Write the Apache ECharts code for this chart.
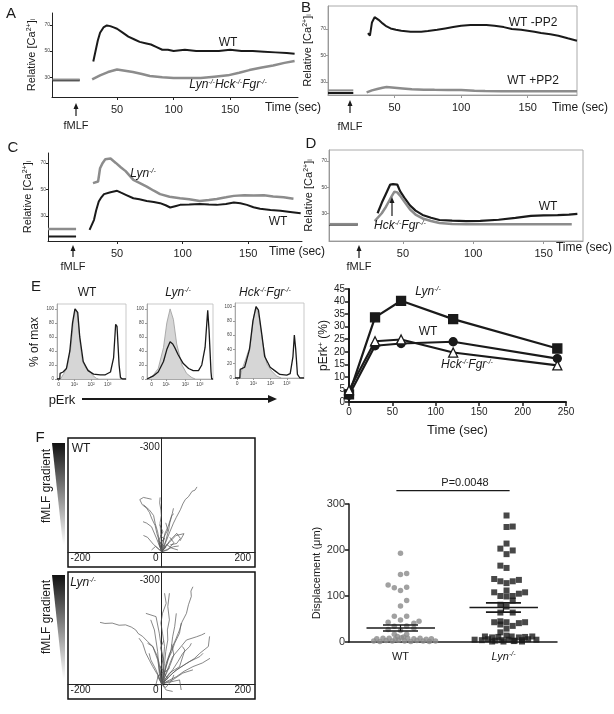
<!DOCTYPE html>
<html>
<head>
<meta charset="utf-8">
<title>Ca flux, pErk and chemotaxis</title>
<script src="https://cdnjs.cloudflare.com/ajax/libs/echarts/6.0.0/echarts.min.js"></script>
<style>html,body{margin:0;padding:0;background:#fff;}</style>
</head>
<body>
<div id="fig" style="width:614px;height:714px;"></div>
<script>
var FONT = 'Liberation Sans';
var INK = '#1a1a1a', GRAY = '#8c8c8c';

// ---------- A-D : calcium traces, [time (sec), relative Ca] ----------
var aBaseWT = [[-7, 27.7], [17, 27.7]];
var aBaseKO = [[-7, 28.3], [17, 28.3]];
var aWT = [[29,42],[31,50],[33,58],[35,64],[38,68],[41,69.5],[44,69],[47,68],[50,67],[55,64],[60,61],[65,59],[70,57],[75,56],[80,55],[85,53],[90,51],[95,51],[100,50],[110,51],[120,50],[130,50],[140,50],[150,51],[160,50],[170,50],[180,49.5],[190,49],[200,48.5],[207,48]];
var aKO = [[28,28.5],[35,31.5],[42,34],[50,36],[57,35],[64,34],[72,32.5],[79,31],[90,30],[100,29.5],[112,29.5],[124,29.5],[136,30.5],[148,31.5],[158,33.5],[167,35.5],[178,37.5],[188,39],[198,41],[207,42.5]];

var bBaseWT = [[0, 21.5], [19, 21.5]];
var bBasePP2 = [[0, 23.5], [19, 23.5]];
var bNoPP2 = [[30,67],[31.5,65],[33,75],[35,79],[38,77],[41,74.3],[44,72],[47,70.5],[51,69.5],[55,68.7],[62,68],[70,68],[75,68.5],[82,69.5],[88,70.5],[94,71.5],[100,72.5],[107,73],[113,73],[119,73],[125,72.5],[132,71.5],[138,70],[145,69.5],[150,68.8],[155,68],[160,67],[167,66],[173,65],[180,63],[187,61.2]];
var bPP2 = [[29,22],[33,23.5],[37,24.5],[41,25.5],[44,26],[50,25.5],[56,25],[63,24.3],[72,24],[80,23.9],[90,23.8],[100,23.7],[110,23.3],[118,23],[130,22.8],[143,22.8],[160,22.8],[175,22.8],[187,22.8]];

var cBaseWT = [[-2.7, 14.4], [18.7, 14.4]];
var cBaseLyn = [[-2.7, 20], [18.7, 20]];
var cLyn = [[31.6,54.7],[35.5,56],[37,66],[39,70],[41,72.8],[45,73.3],[49,70],[53,66.5],[56.5,63.8],[62.4,57.2],[67,55],[72.6,52.1],[78,49],[82.8,46.4],[90,44.5],[98,43.3],[105,42.5],[113,41.3],[120,42],[126,42.8],[133,44],[139,45.1],[147,45.5],[154,45.3],[162,45.5],[169,44.6],[177,44],[184.5,42.9]];
var cWT = [[29,19.4],[32.4,27],[34,34],[36,40.8],[38,44],[40,46.4],[45,47.9],[50,48.9],[53,47.5],[56.6,45.9],[62.4,43.3],[67,42.5],[72.6,41.3],[78,40.5],[82.8,39.6],[87,38],[90.5,36.3],[95,37.5],[98,38.3],[105,38.5],[113,38.9],[120,38.5],[126,38.3],[133,39],[139,40.1],[144,39.5],[149,38.3],[154,36.5],[159,35.3],[167,34.5],[174.6,33.8],[182,33],[190,32]];

var dBaseWT = [[-2.5, 21.3], [18, 21.3]];
var dBaseKO = [[-2.5, 21.8], [18, 21.8]];
var dWT = [[32,30],[35,38],[38,45],[41,52],[43,52.3],[46,52],[48,47],[51,42],[55,36],[59,32],[64,28.7],[70,26.5],[76,24.8],[85,24.3],[95,24],[105,24.2],[118,25],[130,26.5],[141,28],[150,28.3],[160,28.5],[168,29],[174,29.5]];
var dKO = [[30,24],[35,30],[38,35],[40,39],[42,43],[44,46.6],[46,46],[48,43.5],[51,39],[55,33],[59,29],[64,26],[70,24],[76,22.5],[85,21.8],[95,21.5],[110,21.5],[130,21.5],[150,21.5],[170,21.5]];
var caTicksX = [50, 100, 150];
var caTicksY = [30, 50, 70];

// ---------- E : pErk histograms, [position (% of plot width), % of max] ----------
var h1Gray = [[0,0],[5,0],[10,8],[15,18],[20,45],[24,85],[27,100],[30,90],[33,55],[37,25],[42,15],[47,12],[52,5],[57,1],[60,0]];
var h1Black = [[0,0],[4,0],[4.5,8],[8.8,10],[13.7,15],[18.6,40],[22.5,80],[26,100],[30,95],[33,60],[38,25],[45,12],[53,7],[62.7,6],[70,6],[77.5,10],[82,30],[85,78],[87,75],[90,20],[92,2],[95,0],[100,0]];
var h2Gray = [[0,0],[0.5,0],[9,5],[17,15],[25,45],[30,80],[35,100],[40,85],[45,50],[53,20],[60,8],[68,2],[73,0]];
var h2Black = [[0,0],[0.5,2],[9,4],[17,10],[25,25],[30,42],[35,53],[39,50],[42,45],[47,35],[55,22],[63,15],[70,12],[78,12],[83,20],[88,45],[92,98],[94,70],[97,10],[98,0],[100,0]];
var h3Gray = [[0,0],[7,0],[9.5,10],[15,25],[22,45],[27,85],[30.5,100],[35,85],[40,50],[46,20],[53,10],[60,3],[67,0]];
var h3Black = [[0,0],[7,0],[7.5,12],[14,15],[21,40],[26,80],[30.5,100],[34,95],[39,60],[43,30],[51,15],[58,10],[65,5],[75,4],[80,6],[84,30],[86,60],[88,40],[90.5,5],[94,0],[100,0]];
var h1Ticks = [2.5, 25, 49.5, 73.5];
var h2Ticks = [7, 29, 58, 80];
var h3Ticks = [3, 26.6, 51.7, 75];
var histTickLabels = ['0', '10¹', '10²', '10³'];
var histTicksY = [0, 20, 40, 60, 80, 100];

// ---------- E : pErk+ time course ----------
var erkTime = [0, 30, 60, 120, 240];
var erkLyn = [3, 33.7, 40.3, 33, 21.3];
var erkWT = [2.7, 22.4, 23.3, 24, 17.3];
var erkHck = [4.7, 24.2, 24.9, 19.7, 14.6];

// ---------- F : migration tracks, [x, y] in um (negative y = up the gradient) ----------
var wtTracks = [
  [[0,0],[6,-15],[12,-32],[20,-55],[29,-79],[36,-95],[46,-116],[52,-132],[58,-144],[66,-152],[75,-167],[82,-170],[87,-179]],
  [[0,0],[-5,-25],[-12,-51],[-16,-72],[-25,-93],[-30,-108],[-37,-120],[-48,-130],[-54,-144],[-45,-150],[-37,-148],[-25,-145]],
  [[0,0],[-6,-30],[-10,-55],[-16,-78],[-20,-100],[-30,-115],[-45,-130]],
  [[0,0],[4,-25],[8,-51],[16,-70],[21,-88],[26,-105],[29,-120]],
  [[0,0],[10,-30],[17,-60],[20,-80],[25,-100],[30,-105]],
  [[0,0],[21,-32],[37,-51],[46,-37],[37,-23],[21,-19]],
  [[0,0],[29,-14],[42,-16]],
  [[0,0],[-12,-35],[-25,-69],[-37,-79],[-46,-83]],
  [[0,0],[-2,-40],[-4,-80],[-1,-100],[-2,-115],[-5,-135],[-4,-150]],
  [[0,0],[-8,-30],[3,-55],[-5,-75]],
  [[0,0],[12,-20],[25,-10],[40,-5]],
  [[0,0],[-15,-15],[-25,-5]],
  [[0,0],[18,-25],[35,-45],[55,-50],[45,-30]],
  [[0,0],[5,-40],[15,-60],[10,-80]],
  [[0,0],[-6,-20],[6,-35],[-3,-45]],
  [[0,0],[10,-12],[-4,-25],[8,-38]],
  [[0,0],[-20,-20],[-35,-40],[-45,-45]],
  [[0,0],[15,-5],[30,-25],[20,-40]]
];
var lynTracks = [
  [[0,0],[-6,-57],[-12,-80],[-22,-104],[-35,-118],[-47,-132],[-58,-140],[-64,-150],[-75,-158],[-89,-164],[-105,-163],[-122,-169],[-140,-168],[-152,-171]],
  [[0,0],[11,-57],[18,-80],[27,-104],[35,-125],[44,-150],[50,-172],[61,-196],[66,-220],[73,-243],[72,-258],[77,-270]],
  [[0,0],[7,-57],[10,-90],[15,-122],[14,-150],[19,-178],[15,-215],[19,-252]],
  [[7,0],[2,-76],[-2,-110],[-6,-141],[-14,-187],[-39,-196]],
  [[0,0],[27,-30],[45,-45],[61,-57],[80,-70],[94,-85],[115,-104],[118,-132]],
  [[0,0],[36,-20],[55,-35],[77,-48],[100,-58],[119,-71]],
  [[0,0],[27,-39],[40,-62],[52,-85],[69,-104],[73,-113]],
  [[0,0],[-10,-25],[-22,-48],[-30,-65],[-39,-85],[-47,-113],[-56,-127]],
  [[0,0],[15,-67],[25,-90],[32,-113],[44,-141],[48,-169]],
  [[0,0],[11,-48],[23,-94],[27,-131],[32,-159],[36,-196]],
  [[0,0],[19,-30],[44,-48],[57,-94],[51,-104]],
  [[0,0],[-14,-39],[-27,-67],[-31,-85]],
  [[0,0],[-6,-30],[-10,-90],[-18,-150],[-27,-178]],
  [[0,0],[44,-11],[48,17]],
  [[0,0],[11,17],[27,21]],
  [[0,0],[7,-104],[2,-141],[-2,-169],[2,-196],[11,-224],[7,-252]],
  [[0,0],[27,-76],[45,-100],[61,-122],[86,-131],[98,-136],[107,-141]],
  [[0,0],[-10,-67],[-22,-104],[-35,-113]],
  [[0,0],[27,-11],[52,-30],[77,-39]],
  [[0,0],[36,-39],[69,-62],[94,-76],[102,-85]],
  [[0,0],[-10,-20],[5,-35],[-5,-50]],
  [[0,0],[15,-15],[5,-30],[20,-45]],
  [[0,0],[-15,5],[-8,-25]],
  [[0,0],[10,10],[25,-10],[30,-25]],
  [[0,0],[-4,-40],[4,-70],[-3,-100],[5,-120]],
  [[0,0],[20,-50],[30,-80],[25,-110]]
];

// ---------- F : displacement (um), [jittered group position, value] ----------
var wtDisp = [[0.5,193],[0.5,147],[0.56,149],[0.38,124],[0.44,118],[0.5,112],[0.56,119],[0.56,90],[0.5,78],
  [0.44,56],[0.56,56],[0.38,43],[0.5,48],[0.68,45],[0.44,34],[0.56,35],[0.63,41],[0.38,27],[0.5,25],[0.63,30],
  [0.44,17],[0.56,17],[0.47,12],[0.53,11],
  [0.27,7],[0.33,8],[0.39,8],[0.45,6],[0.51,9],[0.57,8],[0.63,7],[0.69,8],[0.75,6],[0.8,7],
  [0.24,2],[0.3,1],[0.36,3],[0.42,2],[0.48,4],[0.54,2],[0.6,1],[0.66,3],[0.72,2],[0.78,1],[0.84,2]];
var lynDisp = [[1.53,275],[1.53,250],[1.59,251],[1.53,214],[1.47,203],[1.59,199],[1.53,191],[1.47,166],[1.53,161],
  [1.41,137],[1.47,132],[1.53,128],[1.59,132],[1.65,135],[1.41,108],[1.53,112],[1.65,105],[1.71,108],
  [1.47,100],[1.53,99],[1.59,100],[1.59,90],[1.47,81],[1.53,77],[1.47,64],[1.59,64],
  [1.41,43],[1.47,45],[1.53,43],[1.65,41],[1.71,43],[1.47,38],[1.59,35],[1.53,29],[1.47,21],[1.53,14],
  [1.32,12],[1.39,10],[1.45,11],[1.58,12],[1.65,10],[1.71,11],[1.78,12],
  [1.22,5],[1.29,4],[1.35,6],[1.42,3],[1.48,4],[1.55,5],[1.61,3],[1.68,4],[1.74,6],[1.82,5],
  [1.39,1],[1.5,1],[1.6,2],[1.68,1]];
var dispGroups = [0.5, 1.5];
var dispMean = [30.5, 75];
var dispSem = [6.5, 10];

// ---------- helpers ----------
function rich(size) {
  var sup = Math.round(size * 0.62);
  return {
    n: {fontFamily: FONT, fontSize: size, color: INK, fill: INK},
    i: {fontFamily: FONT, fontSize: size, fontStyle: 'italic', color: INK, fill: INK},
    s: {fontFamily: FONT, fontSize: sup, fontStyle: 'italic', color: INK, fill: INK, verticalAlign: 'top', lineHeight: sup + 1},
    p: {fontFamily: FONT, fontSize: sup, color: INK, fill: INK, verticalAlign: 'top', lineHeight: sup + 1},
    b: {fontFamily: FONT, fontSize: sup, color: INK, fill: INK, verticalAlign: 'bottom', lineHeight: sup + 1}
  };
}
function tx(x, y, text, size, rot, align) {
  return {type: 'text', x: x, y: y, rotation: rot || 0, z: 50, silent: true,
    style: {text: text, font: size + 'px "' + FONT + '"', fill: INK,
      align: align || 'center', verticalAlign: 'middle', textAlign: align || 'center', textVerticalAlign: 'middle', rich: rich(size)}};
}
function arrowUp(x, yTip, yTail) {
  return [
    {type: 'line', z: 50, silent: true, shape: {x1: x, y1: yTail, x2: x, y2: yTip + 4}, style: {stroke: INK, lineWidth: 1.2}},
    {type: 'polygon', z: 50, silent: true, shape: {points: [[x, yTip], [x - 2.5, yTip + 6], [x + 2.5, yTip + 6]]}, style: {fill: INK}}
  ];
}
var LYN = '{i|Lyn}{s|-/-}';
var HF = '{i|Hck}{s|-/-}{i|Fgr}{s|-/-}';
var TKO = '{i|Lyn}{s|-/-}{i|Hck}{s|-/-}{i|Fgr}{s|-/-}';
var CA = '{n|Relative [Ca}{p|2+}{n|]}{b|i}';

function ln(gi, data, color, width, z) {
  return {type: 'line', xAxisIndex: gi, yAxisIndex: gi, data: data, symbol: 'none', silent: true,
    lineStyle: {color: color, width: width}, z: z || 2};
}
function caX(gi, min, max, lineColor) {
  return {gridIndex: gi, type: 'value', min: min, max: max, splitLine: {show: false},
    axisLine: {onZero: false, lineStyle: {color: lineColor, width: 1}},
    axisTick: {customValues: caTicksX, length: 3, lineStyle: {color: lineColor}},
    axisLabel: {customValues: caTicksX, fontSize: 11, color: '#222', fontFamily: FONT, margin: 7}};
}
function caY(gi, min, max, lineColor) {
  return {gridIndex: gi, type: 'value', min: min, max: max, splitLine: {show: false},
    axisLine: {show: true, onZero: false, lineStyle: {color: lineColor, width: 1}},
    axisTick: {customValues: caTicksY, length: 2, lineStyle: {color: lineColor}},
    axisLabel: {customValues: caTicksY, fontSize: 5, color: '#444', fontFamily: FONT, margin: 2},
    name: CA, nameLocation: 'middle', nameRotate: 90, nameGap: 15, nameTextStyle: {rich: rich(11)}};
}
function hX(gi, ticks) {
  var map = {};
  ticks.forEach(function (t, k) { map[t] = histTickLabels[k]; });
  return {gridIndex: gi, type: 'value', min: 0, max: 100, splitLine: {show: false},
    axisLine: {onZero: false, lineStyle: {color: '#999', width: 0.8}},
    axisTick: {customValues: ticks, length: 2, lineStyle: {color: '#999'}},
    axisLabel: {customValues: ticks, fontSize: 5, color: '#444', fontFamily: FONT, margin: 3,
      formatter: function (v) { return map[v] || ''; }}};
}
function hY(gi, max) {
  return {gridIndex: gi, type: 'value', min: 0, max: max, splitLine: {show: false},
    axisLine: {show: true, onZero: false, lineStyle: {color: '#999', width: 0.8}},
    axisTick: {customValues: histTicksY, length: 2, lineStyle: {color: '#999'}},
    axisLabel: {customValues: histTicksY, fontSize: 4.5, color: '#444', fontFamily: FONT, margin: 3}};
}
// track plots: axis lines cross at the origin, labels are placed after layout
function tX(gi) {
  return {gridIndex: gi, type: 'value', min: -231, max: 230, splitLine: {show: false},
    axisLine: {onZero: true, lineStyle: {color: '#222', width: 1}}, axisTick: {show: false}, axisLabel: {show: false}};
}
function tY(gi, min, max) {
  return {gridIndex: gi, type: 'value', inverse: true, min: min, max: max, splitLine: {show: false},
    axisLine: {onZero: true, lineStyle: {color: '#222', width: 1}}, axisTick: {show: false}, axisLabel: {show: false}};
}
function hist(gi, gray, black) {
  return [
    {type: 'line', xAxisIndex: gi, yAxisIndex: gi, data: gray, symbol: 'none', silent: true,
      lineStyle: {color: '#9a9a9a', width: 0.8}, areaStyle: {color: '#d6d6d6', opacity: 1}, z: 2},
    ln(gi, black, INK, 1.3, 3)
  ];
}
function tracks(gi, list) {
  return {type: 'lines', coordinateSystem: 'cartesian2d', xAxisIndex: gi, yAxisIndex: gi, polyline: true, silent: true,
    data: list.map(function (t) { return {coords: t}; }),
    lineStyle: {color: '#555', width: 0.7, opacity: 1}, z: 3};
}

var grids = [
  {left: 52, top: 13, width: 246, height: 84},
  {left: 328, top: 6, width: 249, height: 89, show: true, borderColor: '#aaa', borderWidth: 1},
  {left: 48, top: 153, width: 254, height: 88},
  {left: 329, top: 150, width: 254, height: 91, show: true, borderColor: '#aaa', borderWidth: 1},
  {left: 57, top: 304, width: 69, height: 75, show: true, borderColor: '#bbb', borderWidth: 0.8},
  {left: 147, top: 304, width: 66, height: 75, show: true, borderColor: '#bbb', borderWidth: 0.8},
  {left: 235, top: 303, width: 69, height: 75, show: true, borderColor: '#bbb', borderWidth: 0.8},
  {left: 349, top: 289, width: 217, height: 113},
  {left: 68, top: 438, width: 187, height: 129, show: true, borderColor: '#111', borderWidth: 1.5},
  {left: 68, top: 572, width: 187, height: 127, show: true, borderColor: '#111', borderWidth: 1.5},
  {left: 349, top: 504, width: 208, height: 138}
];

var xAxes = [
  caX(0, -7.5, 210, '#222'), caX(1, 0, 187, '#999'), caX(2, -2.7, 191, '#222'), caX(3, -2.5, 178, '#999'),
  hX(4, h1Ticks), hX(5, h2Ticks), hX(6, h3Ticks),
  {gridIndex: 7, type: 'value', min: 0, max: 250, interval: 50, splitLine: {show: false},
    axisLine: {onZero: false, lineStyle: {color: INK, width: 2}}, axisTick: {length: 4, lineStyle: {color: INK, width: 1.5}},
    axisLabel: {fontSize: 10, color: '#222', fontFamily: FONT, margin: 5},
    name: 'Time (sec)', nameLocation: 'middle', nameGap: 22, nameTextStyle: {fontSize: 13, fontFamily: FONT, color: INK}},
  tX(8), tX(9),
  {gridIndex: 10, type: 'value', min: 0, max: 2.02, splitLine: {show: false},
    axisLine: {onZero: false, lineStyle: {color: INK, width: 1.5}}, axisTick: {show: false},
    axisLabel: {customValues: dispGroups, fontSize: 11, color: INK, fontFamily: FONT, margin: 9, rich: rich(11),
      formatter: function (v) { return v < 1 ? '{n|WT}' : LYN; }}}
];
var yAxes = [
  caY(0, 15, 79, '#222'), caY(1, 20, 87.5, '#999'), caY(2, 11, 77.5, '#222'), caY(3, 8.7, 78.5, '#999'),
  hY(4, 107), hY(5, 107), hY(6, 105),
  {gridIndex: 7, type: 'value', min: 0, max: 45, interval: 5, splitLine: {show: false},
    axisLine: {show: true, onZero: false, lineStyle: {color: INK, width: 2}}, axisTick: {show: true, length: 4, lineStyle: {color: INK, width: 1.5}},
    axisLabel: {fontSize: 10, color: '#222', fontFamily: FONT, margin: 4},
    name: '{n|pErk}{p|+}{n| (%)}', nameLocation: 'middle', nameRotate: 90, nameGap: 17, nameTextStyle: {rich: rich(12)}},
  tY(8, -314, 42), tY(9, -311, 42),
  {gridIndex: 10, type: 'value', min: 0, max: 300, interval: 100, splitLine: {show: false},
    axisLine: {show: true, onZero: false, lineStyle: {color: INK, width: 1.5}}, axisTick: {show: true, length: 4, lineStyle: {color: INK, width: 1.5}},
    axisLabel: {fontSize: 11, color: '#333', fontFamily: FONT, margin: 4},
    name: 'Displacement (μm)', nameLocation: 'middle', nameRotate: 90, nameGap: 26, nameTextStyle: {fontSize: 11, fontFamily: FONT, color: INK}}
];

var series = [
  ln(0, aBaseWT, INK, 2), ln(0, aBaseKO, GRAY, 2, 3), ln(0, aWT, INK, 2), ln(0, aKO, GRAY, 2.5),
  ln(1, bBaseWT, INK, 2), ln(1, bBasePP2, GRAY, 2, 3), ln(1, bNoPP2, INK, 2), ln(1, bPP2, GRAY, 2.5),
  ln(2, cBaseWT, INK, 2), ln(2, cBaseLyn, GRAY, 2.5), ln(2, cLyn, GRAY, 2.5), ln(2, cWT, INK, 2, 3),
  ln(3, dBaseWT, INK, 2), ln(3, dBaseKO, GRAY, 2, 3), ln(3, dWT, INK, 2.2), ln(3, dKO, GRAY, 2.5, 3)
];
series = series.concat(hist(4, h1Gray, h1Black), hist(5, h2Gray, h2Black), hist(6, h3Gray, h3Black));

function erk(vals, symbol, size, fill) {
  return {type: 'line', xAxisIndex: 7, yAxisIndex: 7, silent: true, z: 4,
    data: erkTime.map(function (t, k) { return [t, vals[k]]; }),
    symbol: symbol, symbolSize: size, showAllSymbol: true,
    lineStyle: {color: INK, width: 2.2}, itemStyle: {color: fill, borderColor: INK, borderWidth: 1.3}};
}
series.push(erk(erkLyn, 'rect', 9, INK), erk(erkWT, 'circle', 8, INK), erk(erkHck, 'triangle', 9, '#fff'));
series.push(tracks(8, wtTracks), tracks(9, lynTracks));

series.push(
  {type: 'scatter', xAxisIndex: 10, yAxisIndex: 10, data: wtDisp, symbol: 'circle', symbolSize: 5.5, silent: true,
    itemStyle: {color: '#8a8a8a'}, z: 3},
  {type: 'scatter', xAxisIndex: 10, yAxisIndex: 10, data: lynDisp, symbol: 'rect', symbolSize: 6, silent: true,
    itemStyle: {color: INK}, z: 3}
);
dispGroups.forEach(function (g, k) {
  var m = dispMean[k], s = dispSem[k];
  [[g - 0.33, g + 0.335, m], [g - 0.17, g + 0.17, m + s], [g - 0.17, g + 0.17, m - s]].forEach(function (seg) {
    series.push(ln(10, [[seg[0], seg[2]], [seg[1], seg[2]]], INK, 1.6, 5));
  });
  series.push(ln(10, [[g, m - s], [g, m + s]], INK, 1.2, 5));
});
// significance bar above the two groups
var sigBar = ln(10, [[0.46, 329], [1.56, 329]], INK, 1.2, 5);
sigBar.clip = false;
series.push(sigBar);

var wedgeFill = function () {
  return new echarts.graphic.LinearGradient(0, 0, 0, 1, [{offset: 0, color: '#111'}, {offset: 1, color: '#fff'}]);
};
var graphics = [
  tx(11, 14, 'A', 15), tx(306, 8, 'B', 15), tx(13, 148, 'C', 15), tx(311, 144, 'D', 15), tx(36, 287, 'E', 15), tx(40, 438, 'F', 15),
  tx(228, 43, '{n|WT}', 12), tx(228, 85, TKO, 12),
  tx(533, 23, '{n|WT -PP2}', 12), tx(533, 81, '{n|WT +PP2}', 12),
  tx(143, 174, LYN, 12), tx(278, 222, '{n|WT}', 12),
  tx(548, 207, '{n|WT}', 12), tx(400, 226, HF, 12),
  tx(293, 108, '{n|Time (sec)}', 12), tx(580, 108, '{n|Time (sec)}', 12),
  tx(297, 252, '{n|Time (sec)}', 12), tx(584, 248, '{n|Time (sec)}', 12),
  tx(76, 126, '{n|fMLF}', 11), tx(350, 127, '{n|fMLF}', 11), tx(73, 267, '{n|fMLF}', 11), tx(359, 267, '{n|fMLF}', 11),
  tx(87, 293, '{n|WT}', 12), tx(178, 293, LYN, 12), tx(265, 293, HF, 12),
  tx(35, 342, '{n|% of max}', 12, Math.PI / 2), tx(62, 400, '{n|pErk}', 13),
  {type: 'line', z: 50, silent: true, shape: {x1: 82, y1: 399, x2: 270, y2: 399}, style: {stroke: INK, lineWidth: 2}},
  {type: 'polygon', z: 50, silent: true, shape: {points: [[277, 399], [268, 395], [268, 403]]}, style: {fill: INK}},
  tx(428, 292, LYN, 12), tx(428, 332, '{n|WT}', 12), tx(467, 365, HF, 12),
  {type: 'polygon', z: 40, silent: true, shape: {points: [[52, 443], [65, 443], [65, 545], [63, 545]]}, style: {fill: wedgeFill()}},
  {type: 'polygon', z: 40, silent: true, shape: {points: [[52, 575], [65, 575], [65, 679], [63, 679]]}, style: {fill: wedgeFill()}},
  tx(47, 486, '{n|fMLF gradient}', 12, Math.PI / 2), tx(47, 617, '{n|fMLF gradient}', 12, Math.PI / 2),
  tx(81, 449, '{n|WT}', 12), tx(83, 583, LYN, 12),
  tx(465, 483, '{n|P=0.0048}', 11)
];
graphics = graphics.concat(arrowUp(76, 103, 116), arrowUp(350, 100, 113), arrowUp(73, 245, 257), arrowUp(359, 245, 258), arrowUp(392, 197, 216));

var chart = echarts.init(document.getElementById('fig'), null, {renderer: 'canvas'});
chart.setOption({
  animation: false,
  backgroundColor: '#fff',
  textStyle: {fontFamily: FONT},
  grid: grids,
  xAxis: xAxes,
  yAxis: yAxes,
  series: series
});

// tick labels of the track plots sit on the axes that cross at the origin
[8, 9].forEach(function (gi) {
  var finder = {xAxisIndex: gi, yAxisIndex: gi};
  [-200, 0, 200].forEach(function (v) {
    var p = chart.convertToPixel(finder, [v, 0]);
    graphics.push(tx(v === 0 ? p[0] - 6 : p[0], p[1] + 6, '{n|' + v + '}', 10));
  });
  var q = chart.convertToPixel(finder, [0, -300]);
  graphics.push(tx(q[0] - 2, q[1] + 4, '{n|-300}', 10, 0, 'right'));
});
chart.setOption({graphic: graphics});
</script>
</body>
</html>
